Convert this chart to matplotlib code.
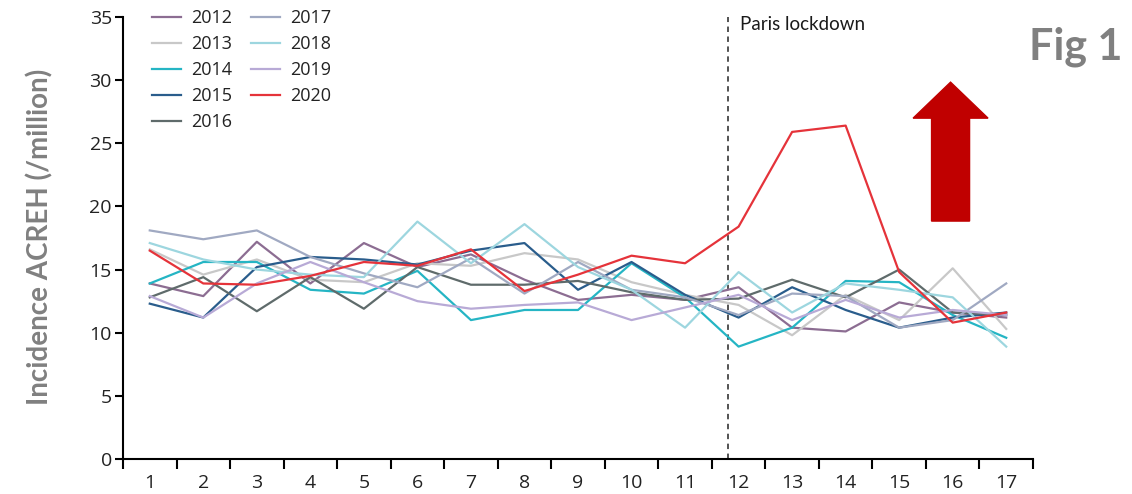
import numpy as np
import matplotlib
matplotlib.use("Agg")
import matplotlib.pyplot as plt
from matplotlib.patches import FancyArrow

# weeks on the x axis
weeks = list(range(1, 18))

# incidence per million
y2012 = [13.9, 12.9, 17.2, 13.9, 17.1, 15.2, 16.2, 14.2, 12.6, 13.0, 12.6, 13.6, 10.4, 10.1, 12.4, 11.6, 11.2]
y2013 = [16.6, 14.6, 15.8, 14.2, 14.0, 15.5, 15.3, 16.3, 15.8, 14.0, 13.0, 12.2, 9.8, 13.0, 11.0, 15.1, 10.3]
y2014 = [13.9, 15.6, 15.6, 13.4, 13.1, 14.9, 11.0, 11.8, 11.8, 15.5, 12.8, 8.9, 10.4, 14.1, 14.0, 11.4, 9.6]
y2015 = [12.3, 11.2, 15.2, 16.0, 15.8, 15.4, 16.5, 17.1, 13.4, 15.6, 13.0, 11.2, 13.6, 11.8, 10.4, 11.2, 11.6]
y2016 = [12.8, 14.4, 11.7, 14.4, 11.9, 15.2, 13.8, 13.8, 14.1, 13.2, 12.6, 12.7, 14.2, 12.8, 15.0, 11.6, 11.4]
y2017 = [18.1, 17.4, 18.1, 16.0, 14.7, 13.6, 15.9, 13.1, 15.6, 13.4, 12.8, 11.4, 13.1, 12.9, 10.4, 11.0, 13.9]
y2018 = [17.1, 15.8, 15.0, 14.6, 14.4, 18.8, 15.5, 18.6, 15.2, 13.4, 10.4, 14.8, 11.6, 13.9, 13.4, 12.8, 8.9]
y2019 = [12.9, 11.2, 13.9, 15.6, 14.0, 12.5, 11.9, 12.2, 12.4, 11.0, 12.0, 13.0, 11.0, 12.6, 11.2, 11.8, 11.4]
y2020 = [16.5, 13.9, 13.8, 14.5, 15.6, 15.3, 16.6, 13.3, 14.6, 16.1, 15.5, 18.4, 25.9, 26.4, 14.8, 10.8, 11.6]

years = ["2012", "2013", "2014", "2015", "2016", "2017", "2018", "2019", "2020"]
series = [y2012, y2013, y2014, y2015, y2016, y2017, y2018, y2019, y2020]
colors = ["#8c6d92", "#c8c8c8", "#25b5c4", "#2a5d8c", "#5f6b6b",
          "#a0a9c2", "#9dd6df", "#b8aad6", "#e5333a"]

lockdown_week = 11.8

fig = plt.figure(figsize=(11.32, 4.94), dpi=100)
ax = fig.add_axes([123 / 1132, 35 / 494, 910 / 1132, 442 / 494])

for yr, vals, c in zip(years, series, colors):
    ax.plot(weeks, vals, color=c, lw=1.6, label=yr, zorder=3 if yr == "2020" else 2)

ax.axvline(lockdown_week, color="#444444", lw=1.3, ls=(0, (3, 2.5)), zorder=1)
ax.text(lockdown_week + 0.23, 34.4, "Paris lockdown", fontsize=13.5,
        family="Lato", va="center", ha="left", color="#1a1a1a")

ax.set_xlim(0.5, 17.5)
ax.set_ylim(0, 35)
ax.spines["top"].set_visible(False)
ax.spines["right"].set_visible(False)
ax.spines["left"].set_linewidth(1.5)
ax.spines["bottom"].set_linewidth(1.5)

# ticks sit between weeks, labels centred on the weeks
ax.set_xticks(np.arange(0.5, 18, 1))
ax.set_xticklabels([])
ax.set_xticks(weeks, minor=True)
ax.set_xticklabels([str(w) for w in weeks], minor=True)
ax.tick_params(axis="x", which="major", direction="out", length=7, width=1.5)
ax.tick_params(axis="x", which="minor", length=0, pad=11, labelsize=14)
ax.set_yticks(range(0, 36, 5))
ax.tick_params(axis="y", direction="out", length=6, width=1.5, pad=2, labelsize=14)
for lab in ax.get_xticklabels(minor=True) + ax.get_yticklabels():
    lab.set_family("Open Sans")
    lab.set_color("#222222")

leg = ax.legend(ncol=2, loc="upper left", bbox_to_anchor=(152 / 1132, 0.982),
                bbox_transform=fig.transFigure, frameon=False,
                handlelength=1.6, handletextpad=0.55, columnspacing=1.05,
                labelspacing=0.45, borderpad=0, borderaxespad=0,
                prop={"family": "Open Sans", "size": 13})
for t in leg.get_texts():
    t.set_color("#222222")

fig.text(40 / 1132, 0.52, "Incidence ACREH (/million)", rotation=90,
         ha="center", va="center", fontsize=20, fontweight="bold",
         family="Lato", color="#808080")
fig.text(1076 / 1132, 0.905, "Fig 1", ha="center", va="center",
         fontsize=31, fontweight="bold", family="Lato", color="#808080")

arrow = FancyArrow(15.96, 18.84, 0, 11.0, width=0.71, head_width=1.4,
                   head_length=2.85, length_includes_head=True,
                   color="#c00000", clip_on=False, zorder=4)
ax.add_patch(arrow)

fig.savefig("out.png", dpi=100)
